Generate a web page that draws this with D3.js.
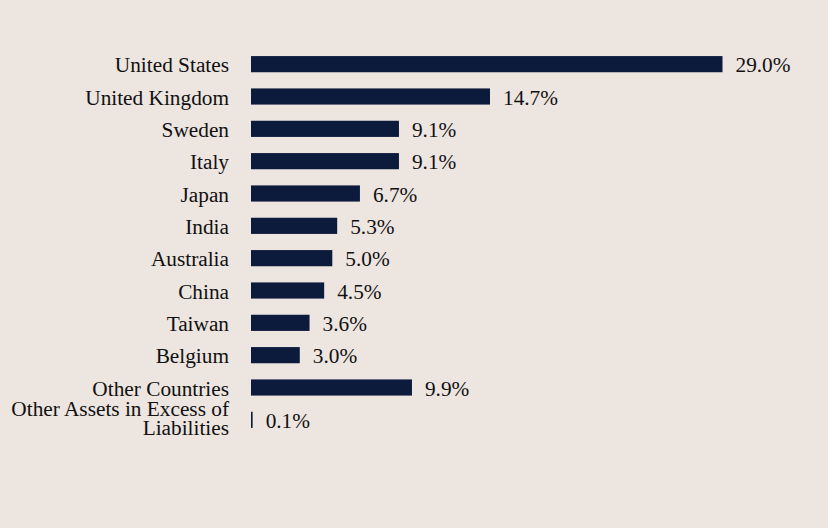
<!DOCTYPE html>
<html>
<head>
<meta charset="utf-8">
<script src="https://cdn.jsdelivr.net/npm/d3@7"></script>
<style>
  body { margin: 0; background: #ede5e0; }
</style>
</head>
<body>
<script>
var countries = ["United States", "United Kingdom", "Sweden", "Italy", "Japan", "India",
    "Australia", "China", "Taiwan", "Belgium", "Other Countries", "Other Assets in Excess of|Liabilities"];
var weights = [29.0, 14.7, 9.1, 9.1, 6.7, 5.3, 5.0, 4.5, 3.6, 3.0, 9.9, 0.1];

var width = 828, height = 528;
var serif = "'Times New Roman', 'Liberation Serif', Times, serif";
var fontSize = 21.3;

var svg = d3.select("body").append("svg")
    .attr("width", width)
    .attr("height", height);

svg.append("rect").attr("width", width).attr("height", height).attr("fill", "#ede5e0");

var x = d3.scaleLinear()
    .domain([0, 29.0])
    .range([251, 722.5]);

var y = d3.scaleBand()
    .domain(countries)
    .range([48, 436])
    .paddingInner(0.5)
    .paddingOuter(0.25);

svg.selectAll("rect.bar")
    .data(weights)
    .enter()
    .append("rect")
    .attr("class", "bar")
    .attr("x", x(0))
    .attr("y", function (d, i) { return y(countries[i]); })
    .attr("width", function (d) { return Math.max(x(d) - x(0), 1.5); })
    .attr("height", y.bandwidth())
    .attr("fill", "#0c1a3c");

svg.selectAll("text.value")
    .data(weights)
    .enter()
    .append("text")
    .attr("class", "value")
    .attr("x", function (d) { return x(0) + Math.max(x(d) - x(0), 1.5) + 13; })
    .attr("y", function (d, i) { return y(countries[i]) + y.bandwidth() / 2 + 8; })
    .attr("font-family", serif)
    .attr("font-size", fontSize)
    .attr("fill", "#111")
    .text(function (d) { return d.toFixed(1) + "%"; });

// category labels, some split in two lines
countries.forEach(function (c) {
    var lines = c.split("|");
    var cy = y(c) + y.bandwidth() / 2;
    var t = svg.append("text")
        .attr("x", 229)
        .attr("text-anchor", "end")
        .attr("font-family", serif)
        .attr("font-size", fontSize)
        .attr("fill", "#111");
    lines.forEach(function (l, k) {
        var base = lines.length > 1 ? cy - 4 + k * 19 : cy + 8;
        t.append("tspan")
            .attr("x", 229)
            .attr("y", base)
            .text(l);
    });
});
</script>
</body>
</html>
